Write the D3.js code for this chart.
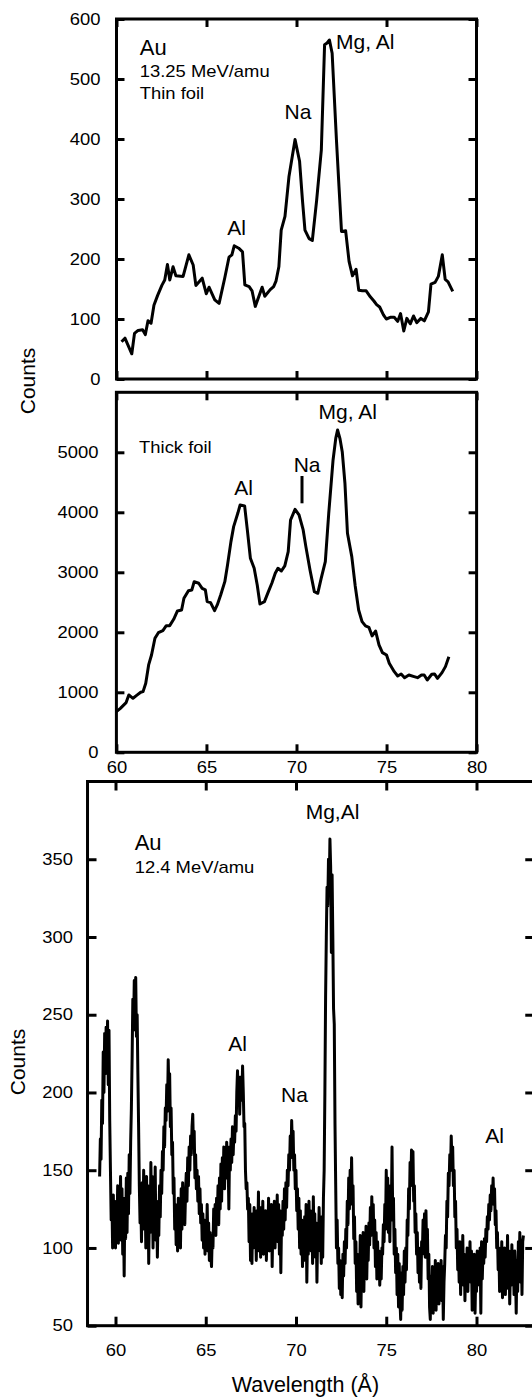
<!DOCTYPE html>
<html>
<head>
<meta charset="utf-8">
<script src="https://cdn.jsdelivr.net/npm/d3@7"></script>
<style>
  body { margin: 0; background: #fff; }
  text { font-family: "Liberation Sans", Arial, Helvetica, sans-serif; fill: #000; }
</style>
</head>
<body>
<script>
const width = 532, height = 1399;

// wavelength (A), counts -- Au 13.25 MeV/amu, thin foil
const thinFoil = [[60.28,62],[60.47,68],[60.85,42],[61.0,76],[61.2,81],[61.45,82],[61.6,74],[61.75,97],[61.92,93],[62.08,123],[62.28,139],[62.52,156],[62.68,165],[62.83,191],[62.96,165],[63.14,187],[63.3,172],[63.7,171],[64.02,207],[64.26,190],[64.41,156],[64.76,168],[64.99,142],[65.14,153],[65.46,132],[65.7,126],[66.01,168],[66.25,203],[66.41,207],[66.54,222],[66.79,218],[67.0,212],[67.13,157],[67.37,154],[67.53,147],[67.71,121],[68.09,153],[68.24,138],[68.54,149],[68.73,154],[68.86,163],[69.02,187],[69.15,248],[69.36,271],[69.58,337],[69.92,399],[70.17,363],[70.33,298],[70.47,248],[70.7,234],[70.88,231],[71.12,298],[71.38,382],[71.56,557],[71.7,560],[71.83,565],[71.98,543],[72.22,398],[72.36,321],[72.5,246],[72.73,247],[72.92,196],[73.11,172],[73.31,183],[73.46,148],[73.66,147],[73.87,147],[74.1,137],[74.3,130],[74.45,124],[74.62,120],[74.83,107],[74.99,100],[75.24,103],[75.43,103],[75.62,96],[75.78,109],[75.96,80],[76.13,101],[76.32,92],[76.5,105],[76.68,94],[76.91,101],[77.1,97],[77.33,112],[77.47,158],[77.7,161],[77.88,171],[78.1,207],[78.26,166],[78.42,162],[78.68,146]];

// thick foil
const thickFoil = [[60.0,678],[60.22,733],[60.54,828],[60.69,956],[60.92,900],[61.16,956],[61.35,1000],[61.48,1011],[61.63,1150],[61.79,1456],[61.95,1622],[62.14,1900],[62.33,1994],[62.58,2028],[62.77,2111],[62.96,2111],[63.18,2217],[63.39,2356],[63.62,2372],[63.75,2567],[64.0,2694],[64.19,2706],[64.32,2844],[64.57,2817],[64.76,2733],[64.94,2706],[65.04,2511],[65.23,2494],[65.45,2361],[65.6,2456],[65.79,2622],[66.02,2844],[66.17,3122],[66.36,3511],[66.51,3761],[66.74,3983],[66.87,4122],[67.12,4106],[67.27,3706],[67.44,3233],[67.65,3067],[67.82,2789],[67.97,2472],[68.22,2511],[68.44,2678],[68.63,2817],[68.82,2983],[68.97,3067],[69.16,3022],[69.35,3106],[69.54,3344],[69.67,3872],[69.92,4050],[70.14,3956],[70.37,3706],[70.52,3428],[70.75,3039],[70.99,2678],[71.18,2650],[71.37,2900],[71.6,3178],[71.79,3983],[72.03,4872],[72.18,5233],[72.28,5372],[72.41,5233],[72.54,5011],[72.69,4483],[72.83,3650],[73.07,3261],[73.26,2772],[73.45,2372],[73.64,2178],[73.83,2106],[74.02,2083],[74.2,1939],[74.39,2022],[74.58,1789],[74.77,1661],[75.0,1622],[75.15,1483],[75.43,1344],[75.62,1272],[75.81,1306],[76.0,1244],[76.24,1289],[76.53,1261],[76.72,1244],[76.94,1289],[77.09,1289],[77.26,1206],[77.51,1300],[77.66,1306],[77.83,1233],[78.08,1328],[78.27,1428],[78.46,1594]];

// Au 12.4 MeV/amu
const spectrum124 = [
[59.12,146],[59.16,170],[59.20,157],[59.24,195],[59.28,180],[59.32,226],[59.36,200],[59.40,238],[59.44,212],[59.48,242],[59.52,222],[59.56,246],[59.60,205],[59.64,240],[59.68,182],[59.72,150],[59.76,118],[59.80,132],[59.84,100],[59.88,134],[59.92,104],[59.96,130],[60.00,100],
[60.04,128],[60.08,110],[60.12,140],[60.16,103],[60.20,136],[60.24,112],[60.28,146],[60.32,105],[60.36,138],[60.40,96],[60.44,124],[60.48,82],[60.52,132],[60.56,106],[60.60,145],[60.64,110],[60.68,148],[60.72,122],[60.76,160],[60.80,135],[60.84,168],
[60.88,190],[60.92,222],[60.96,260],[61.00,240],[61.04,272],[61.08,262],[61.12,274],[61.16,236],[61.20,250],[61.24,212],[61.28,178],[61.32,140],[61.36,116],
[61.40,132],[61.44,104],[61.48,142],[61.52,112],[61.56,150],[61.60,118],[61.64,134],[61.68,100],[61.72,146],[61.76,108],[61.80,140],[61.84,90],[61.88,128],[61.92,110],[61.96,155],[62.00,118],[62.04,146],[62.08,100],[62.12,138],[62.16,112],[62.20,152],[62.24,105],[62.28,130],[62.32,94],[62.36,122],[62.40,108],[62.44,140],[62.48,120],[62.52,150],[62.56,135],[62.60,162],
[62.64,150],[62.68,178],[62.72,165],[62.76,190],[62.80,182],[62.84,205],[62.88,188],[62.92,221],[62.96,200],[63.00,212],[63.04,178],[63.08,190],[63.12,160],[63.16,168],[63.20,135],[63.24,145],
[63.28,112],[63.32,128],[63.36,102],[63.40,120],[63.44,98],[63.48,132],[63.52,108],[63.56,124],[63.60,100],[63.64,138],[63.68,112],[63.72,142],[63.76,120],[63.80,138],[63.84,115],[63.88,135],
[63.92,148],[63.96,130],[64.00,158],[64.04,140],[64.08,165],[64.12,150],[64.16,172],[64.20,160],[64.24,178],[64.28,186],[64.32,165],[64.36,175],[64.40,145],[64.44,160],[64.48,138],[64.52,150],[64.56,130],[64.60,146],[64.64,122],[64.68,138],[64.72,116],[64.76,128],
[64.80,105],[64.84,122],[64.88,100],[64.92,118],[64.96,96],[65.00,115],[65.04,102],[65.08,128],[65.12,98],[65.16,116],[65.20,92],[65.24,110],[65.28,95],[65.32,88],[65.36,108],[65.40,100],[65.44,125],[65.48,110],
[65.52,128],[65.56,108],[65.60,132],[65.64,118],[65.68,140],[65.72,115],[65.76,145],[65.80,125],[65.84,154],[65.88,130],[65.92,158],[65.96,140],[66.00,165],[66.04,138],[66.08,160],[66.12,145],[66.16,168],[66.20,148],[66.24,157],[66.28,125],[66.32,165],[66.36,150],[66.40,170],[66.44,155],[66.48,178],[66.52,160],[66.56,175],[66.60,168],
[66.64,185],[66.68,175],[66.72,200],[66.76,214],[66.80,195],[66.84,210],[66.88,186],[66.92,205],[66.96,210],[67.00,195],[67.04,217],[67.08,200],[67.12,178],[67.16,180],[67.20,150],[67.24,138],[67.28,142],[67.32,125],
[67.36,132],[67.40,104],[67.44,128],[67.48,92],[67.52,118],[67.56,90],[67.60,122],[67.64,100],[67.68,126],[67.72,106],[67.76,118],[67.80,92],[67.84,124],[67.88,104],[67.92,136],[67.96,98],[68.00,120],[68.04,94],[68.08,126],[68.12,102],[68.16,130],[68.20,96],[68.24,118],[68.28,100],[68.32,124],[68.36,92],[68.40,122],[68.44,106],[68.48,132],[68.52,98],[68.56,120],[68.60,104],[68.64,128],[68.68,88],[68.72,118],[68.76,108],[68.80,130],[68.84,100],[68.88,126],[68.92,110],[68.96,134],[69.00,104],[69.04,128],[69.08,96],[69.12,124],[69.16,84],[69.20,118],[69.24,108],[69.28,130],[69.32,112],
[69.36,138],[69.40,118],[69.44,142],[69.48,126],[69.52,150],[69.56,140],[69.60,160],[69.64,150],[69.68,172],[69.72,158],[69.76,182],[69.80,165],[69.84,175],[69.88,150],[69.92,160],[69.96,138],[70.00,150],[70.04,124],[70.08,138],
[70.12,112],[70.16,132],[70.20,100],[70.24,124],[70.28,96],[70.32,118],[70.36,88],[70.40,110],[70.44,92],[70.48,120],[70.52,100],[70.56,128],[70.60,78],[70.64,110],[70.68,96],[70.72,130],[70.76,104],[70.80,124],[70.84,98],[70.88,116],[70.92,90],[70.96,133],[71.00,102],[71.04,122],[71.08,94],[71.12,116],[71.16,78],[71.20,110],[71.24,98],[71.28,126],[71.32,100],[71.36,112],[71.40,90],[71.44,120],
[71.48,94],[71.52,132],[71.56,150],[71.60,200],[71.64,262],[71.68,300],[71.72,332],[71.76,320],[71.80,350],[71.84,330],[71.88,363],[71.92,345],[71.96,290],[72.00,340],[72.04,300],[72.08,254],[72.12,244],[72.16,180],[72.20,140],[72.24,100],
[72.28,118],[72.32,90],[72.36,100],[72.40,74],[72.44,92],[72.48,70],[72.52,88],[72.56,68],[72.60,96],[72.64,82],[72.68,104],[72.72,90],[72.76,112],
[72.80,100],[72.84,130],[72.88,115],[72.92,145],[72.96,125],[73.00,150],[73.04,130],[73.08,158],[73.12,128],[73.16,140],[73.20,106],[73.24,120],[73.28,90],
[73.32,104],[73.36,72],[73.40,96],[73.44,64],[73.48,92],[73.52,80],[73.56,108],[73.60,62],[73.64,96],[73.68,84],[73.72,110],[73.76,72],[73.80,102],[73.84,90],[73.88,114],[73.92,80],[73.96,106],[74.00,92],[74.04,116],
[74.08,102],[74.12,126],[74.16,108],[74.20,133],[74.24,112],[74.28,128],[74.32,100],[74.36,118],[74.40,88],[74.44,110],[74.48,80],[74.52,104],[74.56,84],[74.60,98],[74.64,76],[74.68,92],[74.72,80],[74.76,100],
[74.80,96],[74.84,115],[74.88,104],[74.92,128],[74.96,112],[75.00,150],[75.04,120],[75.08,145],[75.12,110],[75.16,125],[75.20,104],[75.24,140],[75.28,120],[75.32,165],[75.36,118],[75.40,132],[75.44,96],[75.48,112],
[75.52,84],[75.56,100],[75.60,70],[75.64,96],[75.68,62],[75.72,90],[75.76,66],[75.80,54],[75.84,84],[75.88,60],[75.92,88],[75.96,70],[76.00,98],[76.04,78],[76.08,100],[76.12,86],[76.16,118],
[76.20,108],[76.24,138],[76.28,125],[76.32,155],[76.36,140],[76.40,163],[76.44,148],[76.48,162],[76.52,130],[76.56,140],[76.60,110],[76.64,122],[76.68,96],[76.72,110],[76.76,84],[76.80,100],[76.84,78],[76.88,94],[76.92,74],[76.96,104],
[77.00,96],[77.04,118],[77.08,100],[77.12,122],[77.16,94],[77.20,124],[77.24,96],[77.28,112],[77.32,80],[77.36,96],[77.40,62],[77.44,54],[77.48,82],[77.52,66],[77.56,88],[77.60,58],[77.64,80],[77.68,70],[77.72,92],[77.76,60],[77.80,86],[77.84,74],[77.88,90],[77.92,64],[77.96,84],[78.00,74],[78.04,92],[78.08,66],[78.12,88],[78.16,54],[78.20,78],
[78.24,90],[78.28,108],[78.32,100],[78.36,130],[78.40,120],[78.44,148],[78.48,140],[78.52,160],[78.56,150],[78.60,172],[78.64,155],[78.68,165],[78.72,140],[78.76,150],[78.80,120],[78.84,130],[78.88,100],[78.92,112],
[78.96,86],[79.00,100],[79.04,78],[79.08,104],[79.12,70],[79.16,94],[79.20,82],[79.24,108],[79.28,76],[79.32,96],[79.36,66],[79.40,92],[79.44,80],[79.48,100],[79.52,72],[79.56,96],[79.60,84],[79.64,104],[79.68,78],[79.72,98],[79.76,60],[79.80,90],[79.84,70],[79.88,96],[79.92,58],[79.96,84],[80.00,72],[80.04,98],[80.08,80],[80.12,96],[80.16,76],[80.20,100],[80.24,58],[80.28,104],[80.32,80],[80.36,98],[80.40,90],[80.44,106],[80.48,94],[80.52,112],[80.56,104],[80.60,120],
[80.64,112],[80.68,128],[80.72,118],[80.76,134],[80.80,124],[80.84,140],[80.88,130],[80.92,145],[80.96,128],[81.00,138],[81.04,115],[81.08,124],[81.12,100],[81.16,110],
[81.20,86],[81.24,100],[81.28,72],[81.32,94],[81.36,80],[81.40,104],[81.44,68],[81.48,92],[81.52,78],[81.56,100],[81.60,70],[81.64,96],[81.68,84],[81.72,108],[81.76,74],[81.80,98],[81.84,64],[81.88,88],[81.92,76],[81.96,102],[82.00,80],[82.04,94],[82.08,70],[82.12,98],[82.16,84],[82.20,58],[82.24,92],[82.28,72],[82.32,104],[82.36,86],[82.40,110],[82.44,78],[82.48,100],[82.52,70],[82.56,104],[82.60,108]
];

const xTickValues = [60, 65, 70, 75, 80];
const thinYTicks = [0, 100, 200, 300, 400, 500, 600];
const thickYTicks = [0, 1000, 2000, 3000, 4000, 5000];
const lowYTicks = [50, 100, 150, 200, 250, 300, 350];

const svg = d3.select('body').append('svg')
  .attr('width', width).attr('height', height)
  .style('background', '#fff');

// the original figure is horizontally stretched for its small text
const SX = 1.15;
const SMALL = 16;

function panel(cfg) {
  const x = cfg.x, y = cfg.y;
  const g = svg.append('g');
  const fx0 = x(cfg.xFrame[0]), fx1 = x(cfg.xFrame[1]);
  const fy0 = y(cfg.yFrame[0]), fy1 = y(cfg.yFrame[1]);

  g.append('path').datum(cfg.data)
    .attr('d', d3.line().x(d => x(d[0])).y(d => y(d[1])))
    .attr('fill', 'none').attr('stroke', '#000')
    .attr('stroke-width', cfg.lw).attr('stroke-linejoin', 'round');

  const ax = (sel) => { sel.select('.domain').remove(); sel.selectAll('line').attr('stroke-width', 3); sel.style('color', '#000'); };

  const left = g.append('g').attr('transform', `translate(${fx0},0)`)
    .call(d3.axisLeft(y).tickValues(cfg.yTicks).tickSize(-cfg.tick).tickFormat(d => d));
  ax(left);
  left.selectAll('text').attr('x', null).attr('font-size', SMALL).attr('font-family', null)
    .attr('transform', `translate(${-cfg.yPad},0) scale(${SX},1)`);

  g.append('g').attr('transform', `translate(${fx1},0)`)
    .call(d3.axisRight(y).tickValues(cfg.yTicks).tickSize(-cfg.tick).tickFormat('')).call(ax);
  g.append('g').attr('transform', `translate(0,${fy1})`)
    .call(d3.axisTop(x).tickValues(xTickValues).tickSize(-cfg.tick).tickFormat('')).call(ax);

  const bottom = g.append('g').attr('transform', `translate(0,${fy0})`)
    .call(d3.axisBottom(x).tickValues(xTickValues).tickSize(-cfg.tick).tickFormat(cfg.xLabels ? d => d : ''));
  ax(bottom);
  bottom.selectAll('text').attr('y', null).attr('dy', null).attr('font-size', SMALL).attr('font-family', null)
    .attr('transform', `translate(0,${cfg.xPad}) scale(${SX},1)`);

  g.append('rect').attr('x', fx0).attr('y', fy1)
    .attr('width', fx1 - fx0).attr('height', fy0 - fy1)
    .attr('fill', 'none').attr('stroke', '#000').attr('stroke-width', 3);
  return g;
}

function note(str, px, py, size, anchor, stretch) {
  const t = svg.append('text').text(str)
    .attr('font-size', size).attr('text-anchor', anchor || 'start');
  if (stretch) t.attr('transform', `translate(${px},${py}) scale(${SX},1)`);
  else t.attr('x', px).attr('y', py);
  return t;
}

// top: thin foil
const xTop = d3.scaleLinear().domain([60, 80]).range([116.5, 476.5]);
const yTop = d3.scaleLinear().domain([0, 600]).range([379, 19]);
panel({ x: xTop, y: yTop, xFrame: [60, 80], yFrame: [0, 600], data: thinFoil,
  yTicks: thinYTicks, tick: 8, yPad: 16, xLabels: false, xPad: 20, lw: 3 });

// middle: thick foil
const xMid = d3.scaleLinear().domain([60, 80]).range([116.4, 476.6]);
const yMid = d3.scaleLinear().domain([0, 6000]).range([752.3, 392.3]);
panel({ x: xMid, y: yMid, xFrame: [60, 80], yFrame: [0, 6000], data: thickFoil,
  yTicks: thickYTicks, tick: 8, yPad: 18, xLabels: true, xPad: 21, lw: 3 });

// bottom: 12.4 MeV/amu
const xLow = d3.scaleLinear().domain([60, 80]).range([115.5, 476.5]);
const yLow = d3.scaleLinear().domain([50, 400]).range([1325.7, 781.5]);
panel({ x: xLow, y: yLow, xFrame: [58.45, 83.2], yFrame: [50, 400], data: spectrum124,
  yTicks: lowYTicks, tick: 9, yPad: 14.5, xLabels: true, xPad: 30, lw: 3 });

// annotations
note('Au', 139.8, 55, 22);
note('13.25 MeV/amu', 139.8, 77.3, SMALL, 'start', true);
note('Thin foil', 139.8, 99.3, SMALL, 'start', true);
note('Na', 298, 119.3, 21, 'middle');
note('Mg, Al', 336, 49.3, 21);
note('Al', 236.5, 235.3, 21, 'middle');

note('Thick foil', 139.1, 453.3, SMALL, 'start', true);
note('Al', 243.6, 495, 21, 'middle');
note('Na', 307.1, 472.3, 21, 'middle');
svg.append('line').attr('x1', 302).attr('x2', 302).attr('y1', 476).attr('y2', 503.3)
  .attr('stroke', '#000').attr('stroke-width', 3);
note('Mg, Al', 347.8, 419.3, 21, 'middle');

note('Mg,Al', 332.5, 819.3, 21, 'middle');
note('Au', 134.7, 850, 22);
note('12.4 MeV/amu', 134.7, 872.7, SMALL, 'start', true);
note('Al', 237.5, 1050.7, 21, 'middle');
note('Na', 294.5, 1101.7, 21, 'middle');
note('Al', 494.7, 1142.7, 21, 'middle');

// axis titles
svg.append('text').text('Counts').attr('font-size', 21).attr('text-anchor', 'middle')
  .attr('transform', 'translate(35,381) rotate(-90)');
svg.append('text').text('Counts').attr('font-size', 21).attr('text-anchor', 'middle')
  .attr('transform', 'translate(25,1062) rotate(-90)');
note('Wavelength (Å)', 305.4, 1391.7, 21.5, 'middle');
</script>
</body>
</html>
